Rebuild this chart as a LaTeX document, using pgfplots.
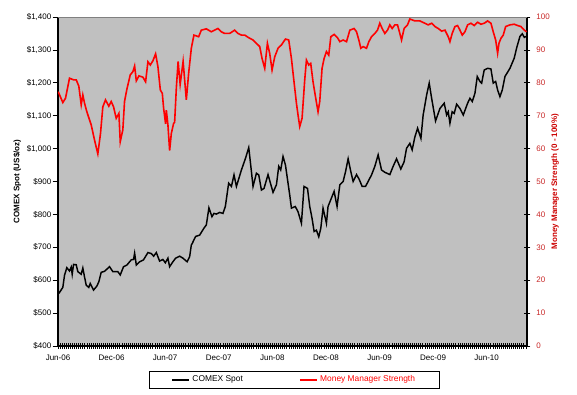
\documentclass[border=0pt]{standalone}
\usepackage{pgfplots}
\pgfplotsset{compat=1.18}
\usepackage{fontspec}
\setmainfont{Liberation Sans}
\usetikzlibrary{calc}
\definecolor{plotbg}{RGB}{192,192,192}
\definecolor{tickred}{RGB}{200,40,40}
\definecolor{labred}{RGB}{204,0,0}
\begin{document}
\begin{tikzpicture}
\pgfplotsset{
  common/.style={
    scale only axis, width=351.75pt, height=246.75pt,
    xmin=0, xmax=52.52,
    /pgf/number format/assume math mode=true,
    tick label style={font=\fontsize{6}{7}\selectfont},
    label style={font=\fontsize{6}{7}\selectfont\bfseries},
    every tick/.style={black, line width=0.5pt},
  }
}
\begin{axis}[common, name=ax,
  axis x line*=bottom, axis y line*=left,
  axis line style={black, line width=0.8pt},
  axis background/.style={fill=plotbg},
  ymin=400, ymax=1400, ytick={400,500,...,1400},
  yticklabels={\$400,\$500,\$600,\$700,\$800,\$900,\$1{,}000,\$1{,}100,\$1{,}200,\$1{,}300,\$1{,}400},
  ytick align=outside, xtick align=center,
  major tick length=4pt, minor tick length=4pt,
  y tick label style={xshift=2.5pt},
  xtick={0,6,...,48},
  xticklabels={Jun-06,Dec-06,Jun-07,Dec-07,Jun-08,Dec-08,Jun-09,Dec-09,Jun-10},
  minor xtick={0.2308,0.4616,...,52.5},
  x tick label style={yshift=-1pt},
  ylabel={COMEX Spot (US\$/oz)},
  ylabel style={at={(axis description cs:-0.087,0.5)}, anchor=center},
  legend columns=2,
  legend style={at={(axis description cs:0.504,-0.103)}, anchor=center,
    draw=black, line width=0.6pt, fill=white, inner xsep=16pt, inner ysep=1.5pt,
    font=\fontsize{6.3}{7}\selectfont,
    /tikz/every even column/.append style={column sep=40pt}},
  legend image code/.code={\draw[#1, line width=1.5pt] (0pt,0pt) -- (12.5pt,0pt);},
]
\addplot[black, line width=1.1pt] coordinates {
(0.1,560)(0.54,578)(0.73,615)(0.99,638)(1.29,628)(1.48,640)(1.59,618)(1.74,648)
(2.04,647)(2.22,626)(2.60,618)(2.78,637)(2.97,610)(3.16,585)(3.45,578)(3.61,590)
(3.98,570)(4.35,582)(4.57,595)(4.84,624)(5.21,627)(5.77,641)(6.14,626)(6.70,626)
(6.97,616)(7.34,641)(7.71,646)(8.21,662)(8.46,663)(8.58,682)(8.77,646)(9.14,656)
(9.58,662)(10.07,684)(10.45,681)(10.71,673)(11.01,684)(11.38,658)(11.75,663)
(12.02,653)(12.31,667)(12.50,641)(12.87,656)(13.17,667)(13.62,673)(13.99,667)
(14.46,656)(14.74,671)(14.93,707)(15.04,712)(15.30,727)(15.41,733)(15.86,737)
(16.34,758)(16.61,768)(16.90,820)(17.24,793)(17.46,803)(17.73,801)(18.10,806)
(18.47,803)(18.74,824)(19.11,895)(19.42,885)(19.71,920)(19.98,885)(20.54,935)
(20.99,970)(21.36,1003)(21.58,950)(21.84,885)(22.22,925)(22.48,920)(22.78,874)
(23.07,879)(23.52,921)(24.08,867)(24.46,890)(24.72,946)(24.94,935)(25.20,976)
(25.47,950)(25.95,859)(26.14,819)(26.57,824)(26.88,808)(27.26,773)(27.55,885)
(27.94,879)(28.19,824)(28.45,788)(28.68,748)(28.94,752)(29.20,732)(29.43,758)
(29.68,819)(30.06,773)(30.24,824)(30.55,845)(30.92,870)(31.25,824)(31.56,890)
(31.93,900)(32.20,930)(32.49,969)(32.79,930)(33.05,900)(33.43,921)(33.72,907)
(34.06,885)(34.44,885)(35.11,920)(35.48,946)(35.85,981)(36.23,935)(36.60,928)
(37.16,921)(37.53,946)(37.91,969)(38.39,938)(38.76,960)(39.03,1001)(39.40,1016)
(39.66,996)(39.96,1035)(40.27,1062)(40.64,1031)(40.89,1102)(41.28,1163)(41.57,1199)
(41.84,1153)(42.28,1084)(42.77,1122)(43.25,1138)(43.52,1102)(43.70,1112)(43.89,1077)
(44.14,1112)(44.37,1107)(44.64,1135)(45.01,1122)(45.38,1102)(45.87,1138)(46.13,1153)
(46.39,1143)(46.69,1168)(46.95,1219)(47.25,1204)(47.44,1199)(47.73,1239)(48.11,1244)
(48.48,1242)(48.74,1199)(49.01,1204)(49.23,1178)(49.49,1158)(49.75,1178)(50.05,1219)
(50.61,1244)(51.09,1275)(51.36,1306)(51.73,1341)(51.99,1349)(52.22,1338)(52.41,1341)
};
\addlegendentry{COMEX Spot}
\addlegendimage{red, line width=1.5pt}
\addlegendentry{\textcolor{red}{Money Manager Strength}}
\end{axis}
\begin{axis}[common,
  axis x line=none, axis y line*=right,
  axis line style={black, line width=0.8pt},
  ymin=0, ymax=100, ytick={0,10,...,100},
  ytick align=center, major tick length=5pt,
  y tick label style={text=tickred, xshift=1pt},
  ylabel={Money Manager Strength (0 - 100\%)},
  ylabel style={at={(axis description cs:1.06,0.5)}, anchor=center, text=labred},
]
\addplot[red, line width=1.2pt] coordinates {
(0.02,77.3)(0.54,74.0)(0.84,75.3)(1.29,81.4)(1.74,80.9)(2.04,80.9)(2.33,79.0)
(2.60,73.3)(2.78,76.3)(2.97,73.8)(3.23,71.2)(3.72,67.2)(4.09,62.6)(4.46,58.4)
(4.76,64.6)(5.02,72.7)(5.32,74.8)(5.69,72.9)(5.96,74.3)(6.22,72.7)(6.52,69.2)
(6.82,70.7)(6.97,62.1)(7.26,65.7)(7.45,74.3)(7.71,78.0)(8.09,82.4)(8.39,83.4)
(8.58,85.1)(8.77,80.6)(9.06,82.1)(9.51,81.7)(9.81,80.3)(10.07,86.4)(10.34,85.4)
(10.63,86.7)(10.93,88.8)(11.19,84.9)(11.46,77.8)(11.68,76.8)(11.83,72.2)(12.05,67.5)
(12.13,71.7)(12.31,67.2)(12.50,59.4)(12.69,64.6)(12.95,67.7)(13.06,68.0)(13.25,78.3)
(13.45,86.5)(13.68,79.5)(14.01,86.5)(14.37,74.8)(14.63,82.9)(14.93,90.5)(15.22,94.5)
(15.75,94.0)(16.05,96.0)(16.61,96.4)(17.17,95.5)(17.54,96.0)(17.91,96.5)(18.29,95.5)
(18.66,95.0)(19.22,95.0)(19.78,96.0)(20.16,95.0)(20.54,94.5)(20.91,94.5)(21.36,93.7)
(21.84,93.0)(22.22,92.0)(22.59,91.0)(22.85,87.4)(23.15,84.4)(23.45,92.0)(23.71,88.9)
(23.97,83.9)(24.27,87.9)(24.64,90.5)(25.02,91.5)(25.47,93.3)(25.84,93.0)(26.14,87.4)
(26.43,80.3)(26.70,73.8)(26.88,70.2)(27.07,66.7)(27.33,69.2)(27.63,80.9)(27.82,86.9)
(28.08,85.4)(28.30,85.9)(28.56,80.3)(28.83,75.8)(29.12,71.2)(29.31,74.3)(29.57,84.4)
(29.80,87.4)(30.06,89.5)(30.32,88.4)(30.55,94.0)(30.92,94.7)(31.30,93.7)(31.56,92.5)
(31.93,93.0)(32.31,92.5)(32.68,96.0)(33.16,96.5)(33.43,95.5)(33.69,93.0)(33.91,90.5)
(34.17,91.0)(34.55,90.5)(34.81,92.5)(35.11,94.0)(35.48,95.0)(35.78,96.0)(36.04,98.1)
(36.30,96.5)(36.60,95.0)(36.90,96.0)(37.16,97.6)(37.42,96.5)(37.72,97.6)(38.02,97.6)
(38.28,95.0)(38.47,93.0)(38.76,96.5)(39.14,97.6)(39.40,99.4)(39.96,98.8)(40.52,98.8)
(41.08,98.1)(41.45,97.6)(41.84,98.1)(42.21,97.1)(42.58,96.5)(42.96,95.7)(43.33,96.0)
(43.70,94.0)(43.89,92.5)(44.14,95.0)(44.45,97.1)(44.75,97.4)(45.01,96.0)(45.27,94.5)
(45.57,95.5)(45.87,97.6)(46.24,98.1)(46.61,97.4)(46.99,98.4)(47.36,97.8)(47.73,98.1)
(48.11,98.8)(48.48,98.1)(48.74,95.5)(49.01,93.0)(49.23,89.0)(49.38,92.0)(49.60,93.5)
(49.86,94.5)(50.13,97.1)(50.61,97.6)(51.09,97.8)(51.47,97.4)(51.84,97.1)(52.22,96.0)
(52.48,95.5)
};
\end{axis}
\draw[gray, line width=0.6pt] (ax.north west) -- (ax.north east);
\pgfresetboundingbox
\path[use as bounding box] ($(ax.south west)+(-43.5pt,-36.75pt)$) rectangle ($(ax.north east)+(37.5pt,12.75pt)$);
\end{tikzpicture}
\end{document}
